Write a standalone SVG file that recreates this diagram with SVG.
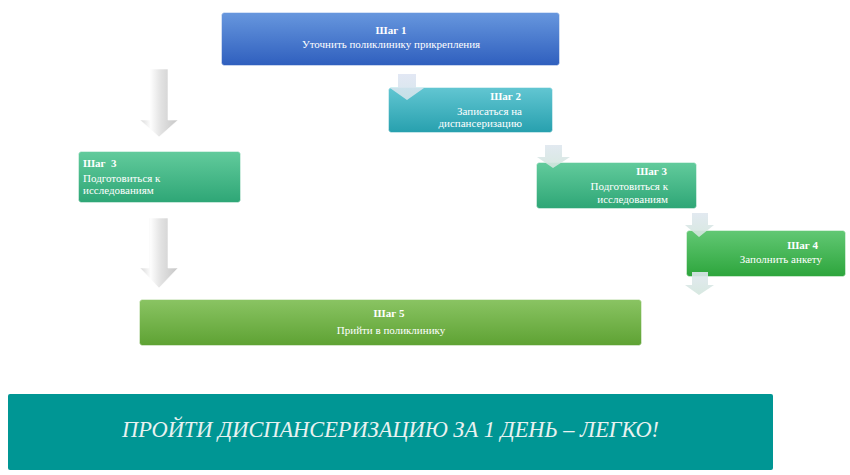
<svg xmlns="http://www.w3.org/2000/svg" width="850" height="475" viewBox="0 0 850 475">
<defs>
<linearGradient id="gBlue" x1="0" y1="0" x2="0" y2="1"><stop offset="0" stop-color="#6797de"/><stop offset="1" stop-color="#2f5fbe"/></linearGradient>
<linearGradient id="gTeal" x1="0" y1="0" x2="0" y2="1"><stop offset="0" stop-color="#62c6d2"/><stop offset="1" stop-color="#27a0ae"/></linearGradient>
<linearGradient id="gMint" x1="0" y1="0" x2="0" y2="1"><stop offset="0" stop-color="#62cb9c"/><stop offset="1" stop-color="#2ea676"/></linearGradient>
<linearGradient id="gGreen" x1="0" y1="0" x2="0" y2="1"><stop offset="0" stop-color="#62c874"/><stop offset="1" stop-color="#2da53c"/></linearGradient>
<linearGradient id="gLime" x1="0" y1="0" x2="0" y2="1"><stop offset="0" stop-color="#8ac463"/><stop offset="1" stop-color="#5ea233"/></linearGradient>
<linearGradient id="gArrow" x1="0" y1="0" x2="1" y2="0"><stop offset="0" stop-color="#d8d8d8"/><stop offset="0.28" stop-color="#fdfdfd"/><stop offset="0.55" stop-color="#e2e2e2"/><stop offset="1" stop-color="#c6c6c6"/></linearGradient>
<linearGradient id="gSmallB" x1="0" y1="0" x2="0" y2="1"><stop offset="0" stop-color="#dfe5f3"/><stop offset="1" stop-color="#d2e4ea"/></linearGradient>
<linearGradient id="gSmallG" x1="0" y1="0" x2="0" y2="1"><stop offset="0" stop-color="#dfe7ef"/><stop offset="1" stop-color="#d3e6dd"/></linearGradient>
</defs>
<style>
.box{stroke:#ffffff;stroke-opacity:0.45;stroke-width:1}
.t{font-family:"Liberation Serif","Times New Roman",serif;font-size:11px;fill:#ffffff}
.b{font-weight:bold}
.c{text-anchor:middle}
.r{text-anchor:end}
.big{fill:url(#gArrow);stroke:#ffffff;stroke-width:0.6}
.sb{fill:url(#gSmallB);opacity:0.9}
.sg{fill:url(#gSmallG);opacity:0.9}
.banner{font-family:"Liberation Serif","Times New Roman",serif;font-size:23px;font-style:italic;fill:#e8f2f1}
</style>
<rect width="850" height="475" fill="#ffffff"/>

<g id="step1">
<rect class="box" x="221.5" y="12.5" width="338" height="53" rx="3" fill="url(#gBlue)"/>
<text class="t b c" x="391" y="34">Шаг 1</text>
<text class="t c" x="391" y="48">Уточнить поликлинику прикрепления</text>
</g>

<g id="step2">
<rect class="box" x="388.5" y="87.5" width="164" height="45" rx="3" fill="url(#gTeal)"/>
<text class="t b r" x="521" y="100">Шаг 2</text>
<text class="t r" x="522" y="115">Записаться на</text>
<text class="t r" x="522" y="127">диспансеризацию</text>
</g>

<g id="step3left">
<rect class="box" x="78.5" y="151.5" width="162" height="51" rx="3" fill="url(#gMint)"/>
<text class="t b" x="83" y="167" xml:space="preserve">Шаг  3</text>
<text class="t" x="83" y="182">Подготовиться к</text>
<text class="t" x="83" y="194">исследованиям</text>
</g>

<g id="step3right">
<rect class="box" x="536.5" y="162.5" width="160" height="46" rx="3" fill="url(#gMint)"/>
<text class="t b r" x="667" y="175">Шаг 3</text>
<text class="t r" x="668" y="190">Подготовиться к</text>
<text class="t r" x="668" y="203">исследованиям</text>
</g>

<g id="step4">
<rect class="box" x="686.5" y="230.5" width="159" height="46" rx="3" fill="url(#gGreen)"/>
<text class="t b r" x="818" y="249">Шаг 4</text>
<text class="t r" x="822" y="263">Заполнить анкету</text>
</g>

<g id="step5">
<rect class="box" x="139.5" y="299.5" width="502" height="46" rx="3" fill="url(#gLime)"/>
<text class="t b c" x="389" y="317">Шаг 5</text>
<text class="t c" x="391" y="334">Прийти в поликлинику</text>
</g>

<g id="banner">
<rect x="8" y="394" width="765" height="76" rx="2" fill="#009694"/>
<text class="banner" x="122" y="437" textLength="537" lengthAdjust="spacingAndGlyphs">ПРОЙТИ ДИСПАНСЕРИЗАЦИЮ ЗА 1 ДЕНЬ – ЛЕГКО!</text>
</g>

<g id="connectors">
<polygon class="big" points="150,69 168,69 168,120 178,120 159,137 140,120 150,120"/>
<polygon class="big" points="149,218 168,218 168,268 178,268 159,288 140,268 149,268"/>
<polygon class="sb" points="398,74 416,74 416,88 424,88 407,100 390,88 398,88"/>
<polygon class="sg" points="545,145 562,145 562,157 570,157 553,168 537,157 545,157"/>
<polygon class="sg" points="692,213 708,213 708,225 714,225 699,237 685,225 692,225"/>
<polygon class="sg" points="692,272 708,272 708,285 714,285 699,295 685,285 692,285"/>
</g>
</svg>
